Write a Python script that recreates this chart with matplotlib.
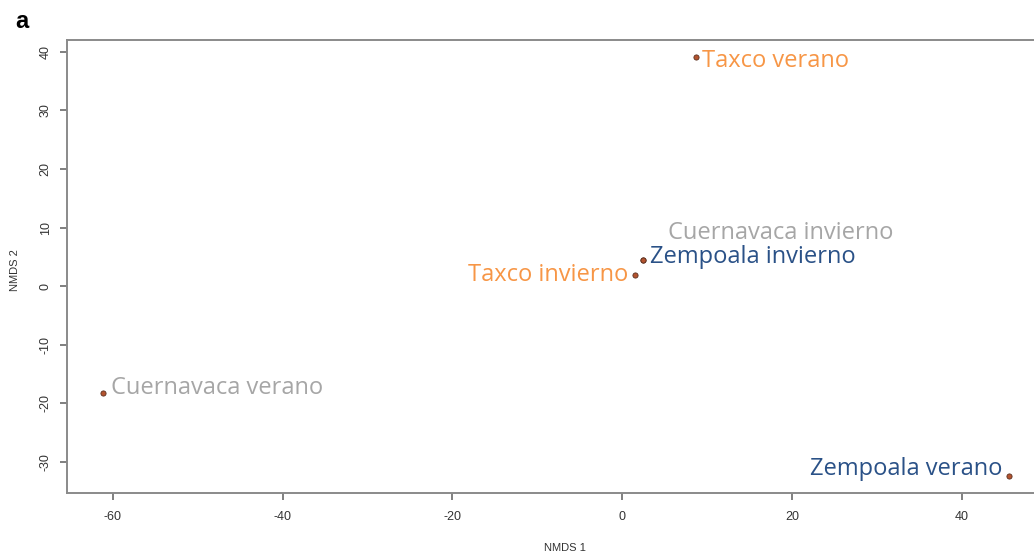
import matplotlib.pyplot as plt

plt.rcParams["axes.unicode_minus"] = False

# NMDS scores per site and season
sites = ["Taxco verano", "Cuernavaca verano", "Zempoala verano",
         "Taxco invierno", "Zempoala invierno", "Cuernavaca invierno"]
nmds1 = [8.7, -61.2, 45.6, 1.5, 2.5, 2.4]
nmds2 = [39.1, -18.3, -32.4, 1.9, 4.4, 4.5]

orange = "#F79646"
grey = "#A6A6A6"
blue = "#2A5187"
label_colors = [orange, grey, blue, orange, blue, grey]
# label offsets (points) and alignment
offsets = [(4, -3), (6, 4), (-5, 5), (-5, 0), (5, 2.5), (18, 19)]
aligns = ["left", "left", "right", "right", "left", "left"]

fig = plt.figure(figsize=(10.34, 5.54), dpi=100)
ax = fig.add_axes([67 / 1034, 61 / 554, 973 / 1034, 453 / 554])

ax.scatter(nmds1, nmds2, s=14, c="#B4532E", edgecolors="#5a3020",
           linewidths=0.6, zorder=3)

for x, y, name, col, off, ha in zip(nmds1, nmds2, sites, label_colors, offsets, aligns):
    ax.annotate(name, (x, y), xytext=off, textcoords="offset points",
                ha=ha, va="center", color=col, fontsize=17,
                family="Open Sans")

ax.set_xlim(-65.4, 49.2)
ax.set_ylim(-35.3, 42.0)
ax.set_xticks([-60, -40, -20, 0, 20, 40])
ax.set_yticks([-30, -20, -10, 0, 10, 20, 30, 40])

for side in ["left", "bottom", "top", "right"]:
    ax.spines[side].set_color("#8a8a8a")
    ax.spines[side].set_linewidth(1.4)

ax.tick_params(axis="both", length=5, width=1.2, color="#6a6a6a",
               labelsize=9, labelcolor="#333333", pad=8)
ax.tick_params(axis="y", pad=6)
for lab in ax.get_xticklabels() + ax.get_yticklabels():
    lab.set_family("Liberation Sans")
plt.setp(ax.get_yticklabels(), rotation=90, va="center")

fig.text(565 / 1034, 1 - 548 / 554, "NMDS 1", ha="center", va="center",
         fontsize=8, color="#333333", family="Liberation Sans")
fig.text(15 / 1034, 1 - 270 / 554, "NMDS 2", ha="center", va="center",
         rotation=90, fontsize=8, color="#333333", family="Liberation Sans")
fig.text(22 / 1034, 1 - 21 / 554, "a", ha="center", va="center",
         fontsize=17, fontweight="bold", family="Liberation Sans")

fig.savefig("out.png", dpi=100)
